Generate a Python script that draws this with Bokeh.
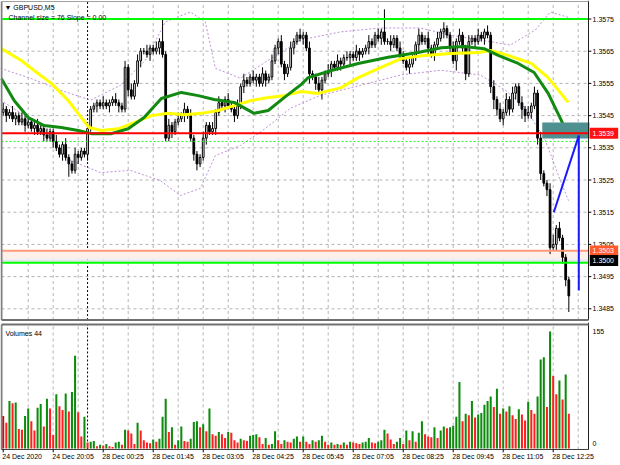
from bokeh.plotting import figure
from bokeh.layouts import column
from bokeh.models import Range1d, ColumnDataSource
from bokeh.core.properties import value
from bokeh.embed import file_html
from bokeh.resources import INLINE

# ---------------- data ----------------
symbol_title = "\u25bc GBPUSD,M5"
channel_text = "Channel size = 76 Slope = 0.00"
volume_title = "Volumes 44"

first_open = 1.3546
close = [
    1.3547, 1.3545, 1.3546, 1.3544, 1.3545, 1.3543, 1.3544, 1.3542, 1.3543, 1.3541,
    1.3542, 1.3540, 1.3541, 1.3539, 1.3538, 1.3540, 1.3537, 1.3535, 1.3533, 1.3536,
    1.3532, 1.3530, 1.3528, 1.3533, 1.3532, 1.3534, 1.3533, 1.3541, 1.3547, 1.3548,
    1.3549, 1.3548, 1.3549, 1.3548, 1.3549, 1.3550, 1.3549, 1.3548, 1.3547, 1.3560,
    1.3553, 1.3551, 1.3555, 1.3562, 1.3565, 1.3565, 1.3564, 1.3566, 1.3565, 1.3566,
    1.3568, 1.3564, 1.3538, 1.3542, 1.3540, 1.3543, 1.3544, 1.3545, 1.3547, 1.3545,
    1.3538, 1.3533, 1.3530, 1.3532, 1.3538, 1.3542, 1.3540, 1.3541, 1.3546, 1.3549,
    1.3548, 1.3550, 1.3548, 1.3547, 1.3545, 1.3548, 1.3554, 1.3556, 1.3555, 1.3557,
    1.3556, 1.3557, 1.3555, 1.3558, 1.3556, 1.3557, 1.3562, 1.3566, 1.3568, 1.3561,
    1.3558, 1.3560, 1.3566, 1.3568, 1.3570, 1.3569, 1.3570, 1.3566, 1.3558, 1.3557,
    1.3555, 1.3553, 1.3556, 1.3558, 1.3559, 1.3561, 1.3560, 1.3562, 1.3561, 1.3563,
    1.3563, 1.3564, 1.3563, 1.3565, 1.3564, 1.3565, 1.3566, 1.3568, 1.3567, 1.3570,
    1.3569, 1.3571, 1.3568, 1.3568, 1.3567, 1.3569, 1.3566, 1.3564, 1.3562, 1.3560,
    1.3561, 1.3563, 1.3567, 1.3570, 1.3568, 1.3569, 1.3566, 1.3564, 1.3567, 1.3569,
    1.3571, 1.3572, 1.3570, 1.3566, 1.3562, 1.3568, 1.3570, 1.3566, 1.3558, 1.3568,
    1.3569, 1.3568, 1.3570, 1.3569, 1.3571, 1.3570, 1.3554, 1.3550, 1.3547, 1.3544,
    1.3546, 1.3550, 1.3547, 1.3552, 1.3554, 1.3549, 1.3547, 1.3545, 1.3546, 1.3548,
    1.3552, 1.3538, 1.3527, 1.3524, 1.3522, 1.3504, 1.3505, 1.3510, 1.3507, 1.3501,
    1.3494, 1.3489,
]
upper_wick_pips = [
    2, 1, 1, 2, 1, 1, 2, 1, 1, 1,  1, 2, 1, 1, 2, 1, 1, 2, 1, 1,
    2, 1, 1, 2, 1, 1, 1, 2, 1, 1,  1, 1, 2, 1, 1, 1, 2, 1, 1, 2,
    1, 2, 1, 2, 1, 1, 2, 1, 1, 2,  1, 7, 1, 2, 1, 1, 2, 1, 2, 1,
    2, 1, 1, 1, 2, 1, 1, 2, 1, 2,  1, 1, 2, 1, 1, 2, 1, 2, 1, 1,
    2, 1, 1, 2, 1, 1, 2, 1, 1, 2,  1, 1, 2, 1, 1, 2, 1, 1, 2, 1,
    1, 2, 1, 1, 2, 1, 1, 2, 1, 1,  2, 1, 1, 2, 1, 1, 1, 2, 1, 1,
    2, 1, 7, 1, 2, 1, 1, 2, 1, 1,  2, 1, 1, 2, 1, 1, 2, 1, 1, 2,
    1, 2, 1, 1, 2, 1, 2, 1, 1, 2,  1, 1, 2, 1, 1, 2, 1, 2, 1, 2,
    1, 2, 1, 2, 1, 1, 2, 1, 2, 1,  2, 1, 2, 1, 1, 2, 3, 1, 2, 1,
    1, 1,
]
lower_wick_pips = [
    1, 2, 1, 1, 2, 1, 1, 2, 1, 1,  2, 1, 1, 2, 1, 1, 2, 1, 1, 2,
    1, 4, 1, 1, 2, 1, 1, 2, 1, 1,  2, 1, 1, 1, 2, 1, 1, 2, 1, 1,
    2, 1, 1, 1, 2, 1, 1, 2, 1, 1,  2, 1, 1, 1, 2, 1, 1, 1, 2, 1,
    1, 2, 2, 1, 1, 2, 1, 1, 2, 1,  1, 2, 1, 1, 2, 1, 1, 2, 1, 1,
    1, 2, 1, 1, 2, 1, 1, 1, 2, 1,  2, 1, 1, 2, 1, 1, 2, 1, 3, 1,
    2, 1, 3, 1, 1, 2, 1, 1, 2, 1,  1, 2, 1, 1, 2, 1, 1, 2, 1, 1,
    1, 2, 1, 1, 2, 1, 1, 2, 1, 1,  2, 1, 1, 2, 1, 1, 2, 1, 2, 1,
    1, 2, 1, 2, 1, 3, 1, 2, 2, 1,  1, 2, 1, 1, 2, 1, 2, 3, 2, 1,
    2, 1, 2, 1, 2, 1, 3, 2, 1, 2,  1, 2, 2, 1, 2, 2, 1, 2, 1, 2,
    2, 5,
]
volume = [
    43, 34, 63, 60, 61, 26, 25, 43, 53, 36, 24, 54, 59, 29, 66, 53, 18, 72, 56, 51,
    73, 49, 75, 123, 48, 16, 42, 8, 9, 10, 3, 5, 4, 6, 3, 2, 8, 9, 5, 25,
    24, 20, 6, 34, 24, 11, 8, 7, 12, 9, 13, 42, 66, 22, 28, 5, 11, 29, 10, 9,
    13, 35, 36, 28, 32, 23, 53, 19, 17, 22, 19, 14, 22, 21, 11, 8, 13, 11, 10, 17,
    18, 19, 15, 6, 14, 5, 6, 23, 11, 6, 11, 9, 8, 13, 16, 9, 16, 9, 6, 11,
    9, 11, 17, 9, 5, 8, 5, 6, 5, 8, 5, 9, 8, 7, 6, 8, 9, 14, 8, 7,
    9, 11, 25, 20, 12, 6, 9, 14, 6, 24, 11, 23, 9, 21, 36, 19, 16, 15, 28, 14,
    24, 29, 27, 28, 30, 42, 88, 36, 46, 44, 63, 41, 45, 47, 58, 63, 69, 55, 79, 46,
    53, 49, 56, 44, 39, 52, 45, 37, 62, 51, 46, 69, 118, 121, 55, 155, 96, 72, 90, 65,
    98, 46,
]

time_label_bars = [0, 16, 32, 48, 64, 80, 96, 112, 128, 144, 160, 176]
time_labels = ["24 Dec 2020", "24 Dec 20:05", "28 Dec 00:25", "28 Dec 01:45",
               "28 Dec 03:05", "28 Dec 04:25", "28 Dec 05:45", "28 Dec 07:05",
               "28 Dec 08:25", "28 Dec 09:45", "28 Dec 11:05", "28 Dec 12:25"]
price_ticks = [1.3575, 1.3565, 1.3555, 1.3545, 1.3535, 1.3525, 1.3515, 1.3505, 1.3495, 1.3485]
grid_bars = [8, 16, 24, 32, 40, 48, 56, 64, 72, 80, 88, 96, 104, 112, 120,
             128, 136, 144, 152, 160, 168, 176, 184]
session_break_bar = 27

ma_green_bar = [-0.6, 3.5, 8, 13.1, 18.6, 24, 28.2, 34.6, 40, 45.1, 50.6, 57, 62.4, 67.5,
                73.9, 80.3, 84.8, 89.9, 95.4, 97.6, 105, 113.6, 123.2, 132.8, 140.2,
                147.5, 153.9, 158.4, 164.8, 169.9, 174.4, 178.6, 180.8]
ma_green_price = [1.35565, 1.35497, 1.35444, 1.35419, 1.35413, 1.35404, 1.35394, 1.35394,
                  1.35409, 1.35444, 1.35503, 1.35522, 1.35512, 1.35500, 1.35491, 1.35457,
                  1.35466, 1.35506, 1.35547, 1.35568, 1.35590, 1.35612, 1.35631, 1.35646,
                  1.35661, 1.35665, 1.35658, 1.35637, 1.35612, 1.35584, 1.35519, 1.35435,
                  1.35385]
ma_yellow_bar = [-0.6, 5.8, 9.9, 15.4, 20.8, 25, 27.5, 31.4, 36.8, 41.9, 47.4, 52.8, 57.9,
                 63.4, 68.8, 73.9, 79.4, 84.8, 89.9, 95.4, 100.8, 108.2, 113.6, 120, 127.4,
                 134.7, 143.4, 152, 156.2, 161.6, 169, 174.4, 180.8]
ma_yellow_price = [1.35658, 1.35621, 1.35590, 1.35550, 1.35497, 1.35444, 1.35413, 1.35404,
                   1.35409, 1.35428, 1.35450, 1.35457, 1.35453, 1.35457, 1.35466, 1.35481,
                   1.35497, 1.35506, 1.35512, 1.35525, 1.35519, 1.35537, 1.35568, 1.35596,
                   1.35627, 1.35637, 1.35643, 1.35646, 1.35652, 1.35637, 1.35612, 1.35568,
                   1.35491]
env_up_bar = [-0.9, 8.7, 18.3, 28, 37.5, 45.5, 51.9, 59.9, 64.7, 67.9, 75.9, 83.9, 95.1,
              108, 120.7, 133.5, 143.1, 152.7, 162.3, 170.3, 175.1, 181.5]
env_up_price = [1.35597, 1.35566, 1.35529, 1.35498, 1.35544, 1.35622, 1.35741, 1.35772,
                1.35741, 1.35597, 1.35566, 1.35616, 1.35685, 1.35710, 1.35722, 1.35722,
                1.35700, 1.35685, 1.35669, 1.35716, 1.35772, 1.35753]
env_dn_bar = [-0.9, 11.9, 21.5, 31.1, 40.7, 50.3, 56.7, 63.1, 67.9, 75.9, 83.9, 91.9, 101.5,
              114.3, 127.1, 139.9, 152.7, 160.7, 167.1, 173.5, 178.3, 180.9]
env_dn_price = [1.35498, 1.35420, 1.35311, 1.35273, 1.35280, 1.35248, 1.35202, 1.35224,
                1.35326, 1.35357, 1.35410, 1.35473, 1.35513, 1.35544, 1.35576, 1.35591,
                1.35576, 1.35529, 1.35473, 1.35373, 1.35248, 1.35186]

level_green = [1.3575, 1.34993]
level_red = 1.35395
level_red_label = "1.3539"
level_orange = 1.3503
level_orange_label = "1.3503"
level_bid_label = "1.3500"
level_bid_price = 1.3500
level_dotted = 1.3537
zone_bars = [172.5, 187.6]
zone_prices = [1.35379, 1.35429]
arrow_bars = [176.2, 184.2]
arrow_prices = [1.35150, 1.35388]
drop_bar = 184.2
drop_prices = [1.35388, 1.34907]
volume_scale_values = [155, 0]
volume_scale_labels = ["155", "0"]

# ---------------- derived ----------------
n = len(close)
idx = list(range(n))
opens = [first_open] + close[:-1]
highs = [max(o, c) + u / 10000 for o, c, u in zip(opens, close, upper_wick_pips)]
lows = [min(o, c) - d / 10000 for o, c, d in zip(opens, close, lower_wick_pips)]
vol_colors = ["#e00000"] + ["#0c8c0c" if volume[i] > volume[i - 1] else "#ff1f1f" for i in range(1, n)]

# ---------------- geometry / style ----------------
W = 620
H_MAIN, H_VOL = 322, 143
X0, X1 = -0.864, 197.54
P_TOP, P_BOT = 1.358075, 1.348075
V_TOP, V_BOT = 166.9, -22.5
LEFT_EDGE, RIGHT_EDGE = -0.54, 187.3
MAIN_TOP, MAIN_BOT = 1.358043, 1.348152
VOL_TOP, VOL_BOT = 164.2, -1.3
LABEL_X = 188.6
FONT = value("Liberation Sans")
GRID = "#b4b4b4"


def make_fig(h, yr):
    f = figure(width=W, height=h, x_range=Range1d(X0, X1), y_range=yr,
               output_backend="svg", toolbar_location=None,
               x_axis_location=None, y_axis_location=None, min_border=0)
    f.grid.visible = False
    f.outline_line_color = None
    f.background_fill_color = "white"
    f.border_fill_color = "white"
    return f


def txt(f, x, y, s, size="7px", color="black", align="left", baseline="middle"):
    f.text(x=[x], y=[y], text=[s], text_font=FONT, text_font_size=size,
           text_color=color, text_align=align, text_baseline=baseline)


# ================= main panel =================
p = make_fig(H_MAIN, Range1d(P_BOT, P_TOP))

# grid
p.segment(x0=grid_bars, x1=grid_bars, y0=[MAIN_BOT] * len(grid_bars), y1=[MAIN_TOP] * len(grid_bars),
          line_color=GRID, line_width=1, line_dash="3 3")
p.segment(x0=[LEFT_EDGE] * len(price_ticks), x1=[RIGHT_EDGE] * len(price_ticks),
          y0=price_ticks, y1=price_ticks, line_color=GRID, line_width=1, line_dash="3 3")
p.segment(x0=[session_break_bar], x1=[session_break_bar], y0=[MAIN_BOT], y1=[MAIN_TOP],
          line_color="black", line_width=1, line_dash="2 2")

# bid/ask band
p.quad(left=[LEFT_EDGE], right=[RIGHT_EDGE], bottom=[1.35003], top=[level_orange],
       fill_color="#fdf0ea", line_color=None)
p.quad(left=[LEFT_EDGE], right=[RIGHT_EDGE], bottom=[level_green[1]], top=[1.35003],
       fill_color="#e2e6ee", line_color=None)

# envelopes
p.line(env_up_bar, env_up_price, line_color="#bf8fd6", line_width=1, line_dash="2 2")
p.line(env_dn_bar, env_dn_price, line_color="#bf8fd6", line_width=1, line_dash="2 2")

# candles
src = ColumnDataSource(dict(x=idx, o=opens, c=close, h=highs, l=lows,
                            top=[max(a, b) for a, b in zip(opens, close)],
                            bot=[min(a, b) for a, b in zip(opens, close)],
                            fill=["white" if c >= o else "black" for o, c in zip(opens, close)]))
p.segment(x0="x", x1="x", y0="l", y1="h", source=src, line_color="black", line_width=1)
p.vbar(x="x", top="top", bottom="bot", width=0.55, source=src,
       fill_color="fill", line_color="black", line_width=1)

# moving averages
p.line(ma_yellow_bar, ma_yellow_price, line_color="#ffff00", line_width=3)
p.line(ma_green_bar, ma_green_price, line_color="#118a11", line_width=3)

# levels
p.segment(x0=[LEFT_EDGE], x1=[RIGHT_EDGE], y0=[level_dotted], y1=[level_dotted],
          line_color="#22ee22", line_width=1, line_dash="2 2")
p.segment(x0=[LEFT_EDGE] * 2, x1=[RIGHT_EDGE] * 2, y0=level_green, y1=level_green,
          line_color="#00ff00", line_width=2)
p.segment(x0=[LEFT_EDGE], x1=[RIGHT_EDGE], y0=[level_orange], y1=[level_orange],
          line_color="#ff9a7a", line_width=2)

# zone + red level
p.quad(left=[zone_bars[0]], right=[zone_bars[1]], bottom=[zone_prices[0]], top=[zone_prices[1]],
       fill_color="#4f9090", line_color=None)
p.segment(x0=[LEFT_EDGE], x1=[RIGHT_EDGE], y0=[level_red], y1=[level_red],
          line_color="#ff0000", line_width=2)

# blue annotation
p.line(arrow_bars, arrow_prices, line_color="#1a1aff", line_width=2)
p.segment(x0=[drop_bar], x1=[drop_bar], y0=[drop_prices[0]], y1=[drop_prices[1]],
          line_color="#1a1aff", line_width=2)

# borders
p.segment(x0=[LEFT_EDGE], x1=[LEFT_EDGE], y0=[MAIN_BOT], y1=[MAIN_TOP], line_color="#808080", line_width=2)
p.segment(x0=[RIGHT_EDGE], x1=[RIGHT_EDGE], y0=[MAIN_BOT], y1=[P_TOP], line_color="#202020", line_width=1)
p.segment(x0=[LEFT_EDGE], x1=[RIGHT_EDGE], y0=[MAIN_TOP], y1=[MAIN_TOP], line_color="#a0a0a0", line_width=1)
p.segment(x0=[LEFT_EDGE], x1=[RIGHT_EDGE], y0=[MAIN_BOT], y1=[MAIN_BOT], line_color="#707070", line_width=2)

# right price scale
p.segment(x0=[RIGHT_EDGE] * len(price_ticks), x1=[RIGHT_EDGE + 0.9] * len(price_ticks),
          y0=price_ticks, y1=price_ticks, line_color="black", line_width=1)
p.text(x=[LABEL_X] * len(price_ticks), y=price_ticks, text=[f"{t:.4f}" for t in price_ticks],
       text_font=FONT, text_font_size="7px", text_color="black", text_align="left",
       text_baseline="middle")

for price, lab, bg in [(level_red, level_red_label, "#ff1010"),
                       (level_orange, level_orange_label, "#ff5a2a"),
                       (level_bid_price, level_bid_label, "#000000")]:
    p.quad(left=[RIGHT_EDGE + 0.4], right=[196.8], bottom=[price - 0.00017], top=[price + 0.00017],
           fill_color=bg, line_color=None)
    txt(p, LABEL_X, price, lab, color="white")

txt(p, 0.4, 1.35786, symbol_title)
txt(p, 1.7, 1.35755, channel_text)

# ================= volume panel =================
v = make_fig(H_VOL, Range1d(V_BOT, V_TOP))
v.segment(x0=grid_bars, x1=grid_bars, y0=[VOL_BOT] * len(grid_bars), y1=[VOL_TOP] * len(grid_bars),
          line_color=GRID, line_width=1, line_dash="3 3")
v.segment(x0=[session_break_bar], x1=[session_break_bar], y0=[VOL_BOT], y1=[VOL_TOP],
          line_color="black", line_width=1, line_dash="2 2")
v.vbar(x=idx, top=volume, bottom=0, width=0.65, fill_color=vol_colors, line_color=None)

v.segment(x0=[LEFT_EDGE], x1=[LEFT_EDGE], y0=[VOL_BOT], y1=[VOL_TOP], line_color="#808080", line_width=2)
v.segment(x0=[RIGHT_EDGE], x1=[RIGHT_EDGE], y0=[VOL_BOT], y1=[V_TOP], line_color="#202020", line_width=1)
v.segment(x0=[LEFT_EDGE], x1=[RIGHT_EDGE], y0=[VOL_TOP], y1=[VOL_TOP], line_color="#707070", line_width=2)
v.segment(x0=[LEFT_EDGE], x1=[RIGHT_EDGE], y0=[VOL_BOT], y1=[VOL_BOT], line_color="#404040", line_width=1)

# time axis
v.segment(x0=time_label_bars, x1=time_label_bars, y0=[VOL_BOT] * len(time_label_bars),
          y1=[-5.0] * len(time_label_bars), line_color="black", line_width=1)
v.text(x=[b - 0.3 for b in time_label_bars], y=[-11.0] * len(time_labels), text=time_labels,
       text_font=FONT, text_font_size="7px", text_color="black", text_align="left",
       text_baseline="middle")

txt(v, LABEL_X, 155, volume_scale_labels[0])
txt(v, LABEL_X, 6.6, volume_scale_labels[1])
txt(v, 0.7, 152.3, volume_title)

layout = column(p, v, spacing=0)
open("out.html", "w").write(file_html(layout, INLINE))
